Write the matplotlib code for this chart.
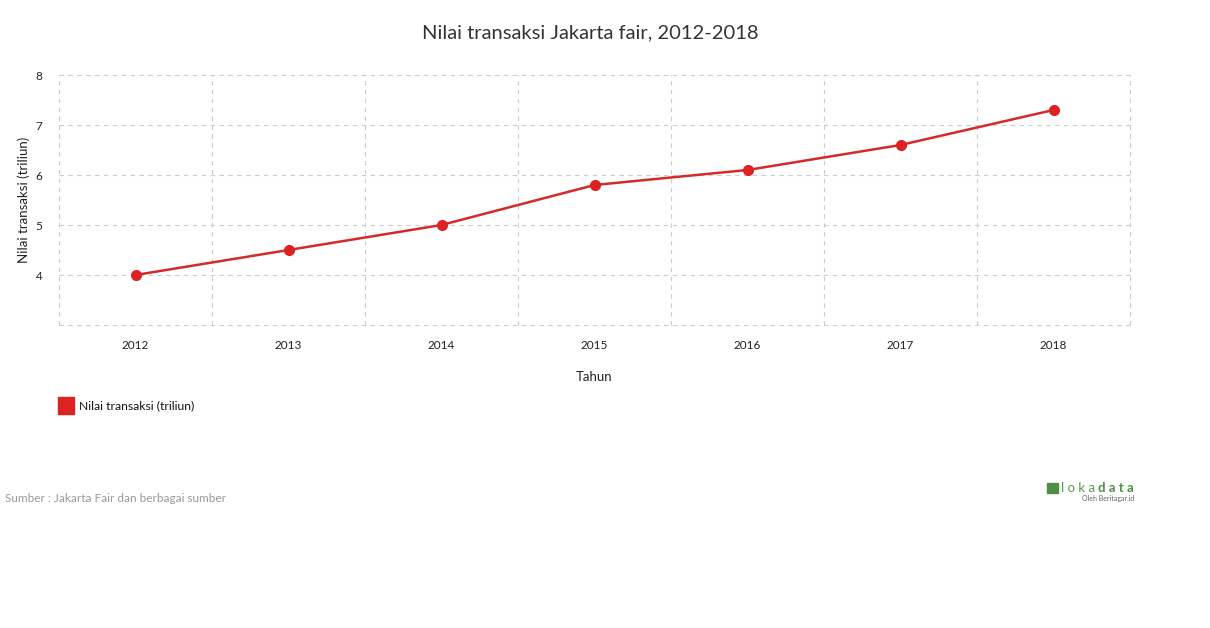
import matplotlib.pyplot as plt
from matplotlib.patches import Rectangle
import numpy as np

plt.rcParams['font.family'] = ['Lato', 'DejaVu Sans']

years = ["2012", "2013", "2014", "2015", "2016", "2017", "2018"]
values = [4.0, 4.5, 5.0, 5.8, 6.1, 6.6, 7.3]
series_name = "Nilai transaksi (triliun)"
red = "#dd2222"

fig = plt.figure(figsize=(12.1, 6.28), dpi=100)
ax = fig.add_axes([59 / 1210, 1 - 325 / 628, 1071 / 1210, 250 / 628])

x = np.arange(len(years))
ax.plot(x, values, color="#d42a2a", lw=1.8, marker="o", ms=7,
        mfc=red, mec=red, zorder=3)

ax.set_xlim(-0.5, len(years) - 0.5)
ax.set_ylim(3, 8)
ax.set_xticks(x)
ax.set_xticklabels(years)
ax.set_yticks([4, 5, 6, 7, 8])
ax.tick_params(length=0, labelsize=8.5, colors="#222222")
ax.tick_params(axis="x", pad=11)
ax.tick_params(axis="y", pad=12)

# grid: horizontal at every unit, vertical at category boundaries
for yv in range(3, 9):
    ax.axhline(yv, color="#cccccc", lw=0.8, ls=(0, (4, 4)), zorder=1,
               clip_on=False)
for xv in np.arange(-0.5, len(years), 1.0):
    ax.axvline(xv, color="#cccccc", lw=0.8, ls=(0, (4, 4)), zorder=1,
               clip_on=False)
for s in ax.spines.values():
    s.set_visible(False)

ax.set_xlabel("Tahun", fontsize=9.5, color="#222222", labelpad=14)
ax.set_ylabel(series_name, fontsize=9.5, color="#222222", labelpad=4)

fig.text(590 / 1210, 1 - 33 / 628, "Nilai transaksi Jakarta fair, 2012-2018",
         ha="center", va="center", fontsize=14.5, color="#333333")

# legend
fig.patches.append(Rectangle((58 / 1210, 1 - 414 / 628), 16 / 1210, 17 / 628,
                             transform=fig.transFigure, color=red))
fig.text(79 / 1210, 1 - 406 / 628, series_name, ha="left", va="center",
         fontsize=8.7, color="#111111")

fig.text(5 / 1210, 1 - 498 / 628, "Sumber : Jakarta Fair dan berbagai sumber",
         ha="left", va="center", fontsize=8.5, color="#999999")

# logo
fig.text(1061 / 1210, 1 - 488 / 628, "l o k a ", ha="left", va="center",
         fontsize=9.5, color="#5a9a4e")
fig.text(1134 / 1210, 1 - 488 / 628, "d a t a", ha="right", va="center",
         fontsize=9.5, color="#4f8f44", fontweight="bold")
fig.patches.append(Rectangle((1047 / 1210, 1 - 493 / 628), 11 / 1210, 10 / 628,
                             transform=fig.transFigure, color="#4f8f44"))
fig.text(1134 / 1210, 1 - 498 / 628, "Oleh Beritagar.id", ha="right",
         va="center", fontsize=5, color="#666666")

fig.savefig("out.png", dpi=100)
